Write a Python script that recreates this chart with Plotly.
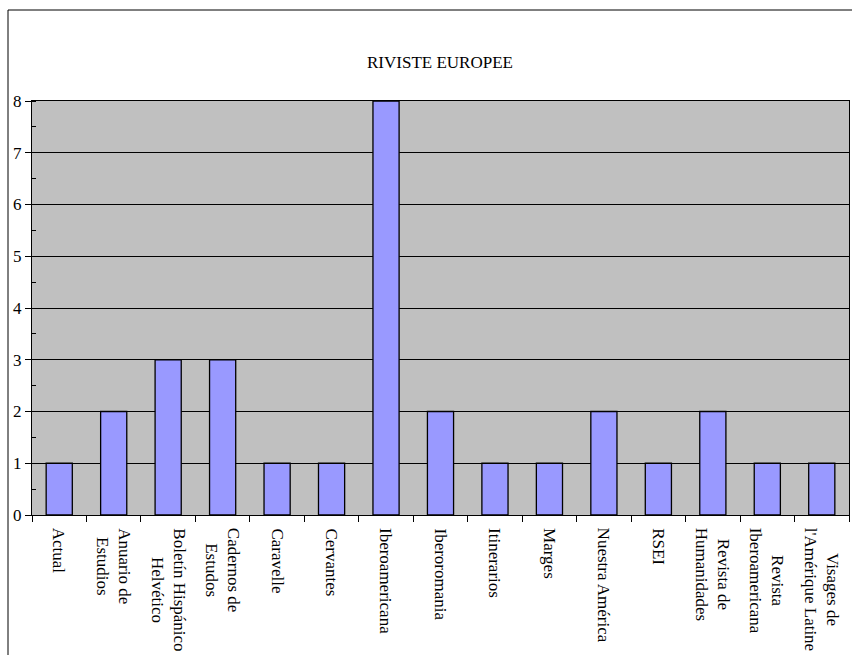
import plotly.graph_objects as go

categories = ["Actual", "Anuario de<br>Estudios", "Boletín Hispánico<br>Helvético", "Cadernos de<br>Estudos",
              "Caravelle", "Cervantes", "Iberoamericana", "Iberoromania", "Itinerarios", "Marges",
              "Nuestra América", "RSEI", "Revista de<br>Humanidades", "Revista<br>Iberoamericana",
              "Visages de<br>l'Amérique Latine"]
values = [1, 2, 3, 3, 1, 1, 8, 2, 1, 1, 2, 1, 2, 1, 1]
title = "RIVISTE EUROPEE"

FONT = "Liberation Serif"

fig = go.Figure(go.Bar(
    x=list(range(len(categories))), y=values,
    marker=dict(color="#9999FF", line=dict(color="black", width=1.3)),
    width=0.48,
))

L, R, T, B = 32, 3, 101, 140
W, H = 852, 655
pw, ph = W - L - R, H - T - B

annotations = [dict(x=i, y=0, xref="x", yref="y", text=c, textangle=90, showarrow=False,
                    xanchor="center", yanchor="top", yshift=-11, align="center",
                    font=dict(family=FONT, size=17, color="black"))
               for i, c in enumerate(categories)]

fig.update_layout(
    width=W, height=H,
    margin=dict(l=L, r=R, t=T, b=B, pad=0),
    paper_bgcolor="white", plot_bgcolor="#C0C0C0",
    font=dict(family=FONT, size=17, color="black"),
    title=dict(text=title, x=(440) / W, xanchor="center", y=1 - 62 / H, yanchor="middle",
               font=dict(family=FONT, size=17, color="black")),
    showlegend=False,
    annotations=annotations,
    shapes=[dict(type="rect", xref="paper", yref="paper",
                 x0=(8 - L) / pw, x1=(870 - L) / pw,
                 y0=(H - B - 720) / ph, y1=(H - B - 10) / ph,
                 line=dict(color="black", width=1), fillcolor="rgba(0,0,0,0)", layer="below")],
)

fig.update_xaxes(
    range=[-0.5, len(categories) - 0.5],
    tickmode="array", tickvals=[i - 0.5 for i in range(len(categories) + 1)],
    showticklabels=False,
    ticks="outside", ticklen=6, tickcolor="black",
    showline=True, linecolor="black", linewidth=1, mirror=True,
    showgrid=False, zeroline=False, automargin=False,
)
fig.update_yaxes(
    range=[0, 8], dtick=1, ticks="outside", ticklen=6, tickcolor="black",
    showline=True, linecolor="black", linewidth=1, mirror=True,
    showgrid=True, gridcolor="black", gridwidth=1, zeroline=False,
    minor=dict(dtick=0.5, ticks="inside", ticklen=4, tickcolor="black", showgrid=False),
    tickfont=dict(family=FONT, size=17), automargin=False,
)

fig.write_html("out.html")
